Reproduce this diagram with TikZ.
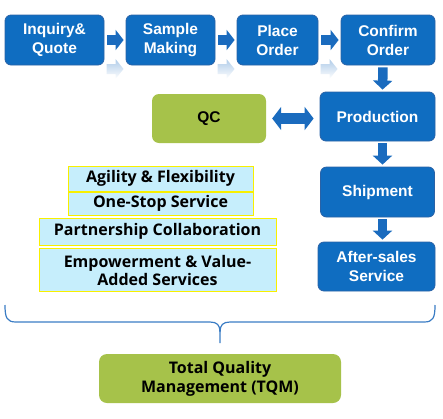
\documentclass[tikz,border=0pt]{standalone}
\usepackage{fontspec}
\setmainfont{Liberation Sans}
\newfontfamily\segoe{Open Sans}
\usetikzlibrary{arrows.meta,calc,fadings}
\definecolor{bfill}{HTML}{0F6DC1}
\definecolor{bborder}{HTML}{2A62A6}
\definecolor{arrowblue}{HTML}{1A6BBE}
\definecolor{gfill}{HTML}{A6C24A}
\definecolor{cfill}{HTML}{C6EEFC}
\definecolor{yborder}{HTML}{F8F000}
\definecolor{bracecol}{HTML}{3A7CC4}
\begin{document}
\begin{tikzpicture}[x=1pt,y=-1pt,
  bluebox/.style={draw=bborder, fill=bfill, rounded corners=6pt, line width=0.8pt, text=white,
    font=\bfseries\fontsize{15.5}{19}\selectfont, align=center, inner sep=0pt},
  greenbox/.style={fill=gfill, rounded corners=7pt, text=black, align=center, inner sep=0pt},
  valbox/.style={draw=yborder, fill=cfill, line width=1pt, text=black, align=center, inner sep=0pt,
    font=\segoe\bfseries\fontsize{16}{18}\selectfont},
  harrow/.style={draw=arrowblue, line width=10pt, -{Triangle[length=8pt,width=20pt]}},
  varrow/.style={draw=arrowblue, line width=9.5pt, -{Triangle[length=9pt,width=19pt]}},
  darrow/.style={draw=arrowblue, line width=11pt, {Triangle[length=9pt,width=23pt]}-{Triangle[length=9pt,width=23pt]}},
  reflect/.style={fill=arrowblue, fill opacity=0.35, path fading=south},
]
\useasboundingbox (0,0) rectangle (443,418);

\node[bluebox, minimum width=99pt, minimum height=50pt] (inq) at (54.5,40) {Inquiry\&\\Quote};
\node[bluebox, minimum width=89pt, minimum height=50pt] (smp) at (170.5,40) {Sample\\Making};
\node[bluebox, minimum width=81pt, minimum height=50pt] (plc) at (277.5,40) {Place\\Order};
\node[bluebox, minimum width=94pt, minimum height=50pt] (cnf) at (388,40) {Confirm\\Order};
\node[bluebox, minimum width=115pt, minimum height=49pt] (prd) at (377.5,116.5) {Production};
\node[bluebox, minimum width=114pt, minimum height=50pt] (shp) at (377.5,192) {Shipment};
\node[bluebox, minimum width=117pt, minimum height=49pt] (aft) at (376.5,266.5) {After-sales\\Service};

\node[greenbox, minimum width=114pt, minimum height=49pt, font=\bfseries\fontsize{15.5}{19}\selectfont] (qc) at (209,118.5) {QC};

\node[valbox, minimum width=185pt, minimum height=25pt] (agi) at (160.5,178.5) {Agility \& Flexibility};
\node[valbox, minimum width=185pt, minimum height=23pt] (one) at (160.5,203.5) {One-Stop Service};
\node[valbox, minimum width=237pt, minimum height=27pt] (par) at (157.5,231.5) {Partnership Collaboration};
\node[valbox, minimum width=237pt, minimum height=43pt] (emp) at (157.5,270) {Empowerment \& Value-\\Added Services};

\node[greenbox, rounded corners=8pt, minimum width=242pt, minimum height=49pt,
  font=\segoe\bfseries\fontsize{16}{19}\selectfont] (tqm) at (220,378.5) {Total Quality\\Management (TQM)};

% faint reflections of the top arrows
\foreach \x in {106.5,217.5,320.5}{
  \fill[reflect] (\x,64) -- (\x+9,64) -- (\x+9,59) -- (\x+17,69) -- (\x+9,79) -- (\x+9,74) -- (\x,74) -- cycle;
}

% horizontal block arrows
\draw[harrow, shorten <=3pt, shorten >=2pt] (inq.east) -- (smp.west);
\draw[harrow, shorten <=3pt, shorten >=2pt] (smp.east) -- (plc.west);
\draw[harrow, shorten <=3pt, shorten >=2pt] (plc.east) -- (cnf.west);
% vertical block arrows
\draw[varrow, shorten <=2pt, shorten >=2pt] ([xshift=-5pt]cnf.south) -- ([xshift=5pt]prd.north);
\draw[varrow, shorten <=2pt, shorten >=2pt] ([xshift=5pt]prd.south) -- ([xshift=5pt]shp.north);
\draw[varrow, shorten <=2pt, shorten >=2pt] ([xshift=5pt]shp.south) -- ([xshift=6pt]aft.north);
% double arrow
\draw[darrow, shorten <=6pt, shorten >=6pt] (qc.east) -- (prd.west |- qc.east);

% brace
\coordinate (bl) at (5,305);
\coordinate (br) at (435,305);
\coordinate (bt) at (220,343);
\draw[bracecol, line width=1.2pt]
  (bl) .. controls (5,318) and (7,322) .. (16,322) -- (210,322)
  .. controls (217,322) and (220,325) .. (220,332) -- (bt);
\draw[bracecol, line width=1.2pt]
  (br) .. controls (435,318) and (433,322) .. (424,322) -- (230,322)
  .. controls (223,322) and (220,325) .. (220,332);
\end{tikzpicture}
\end{document}
